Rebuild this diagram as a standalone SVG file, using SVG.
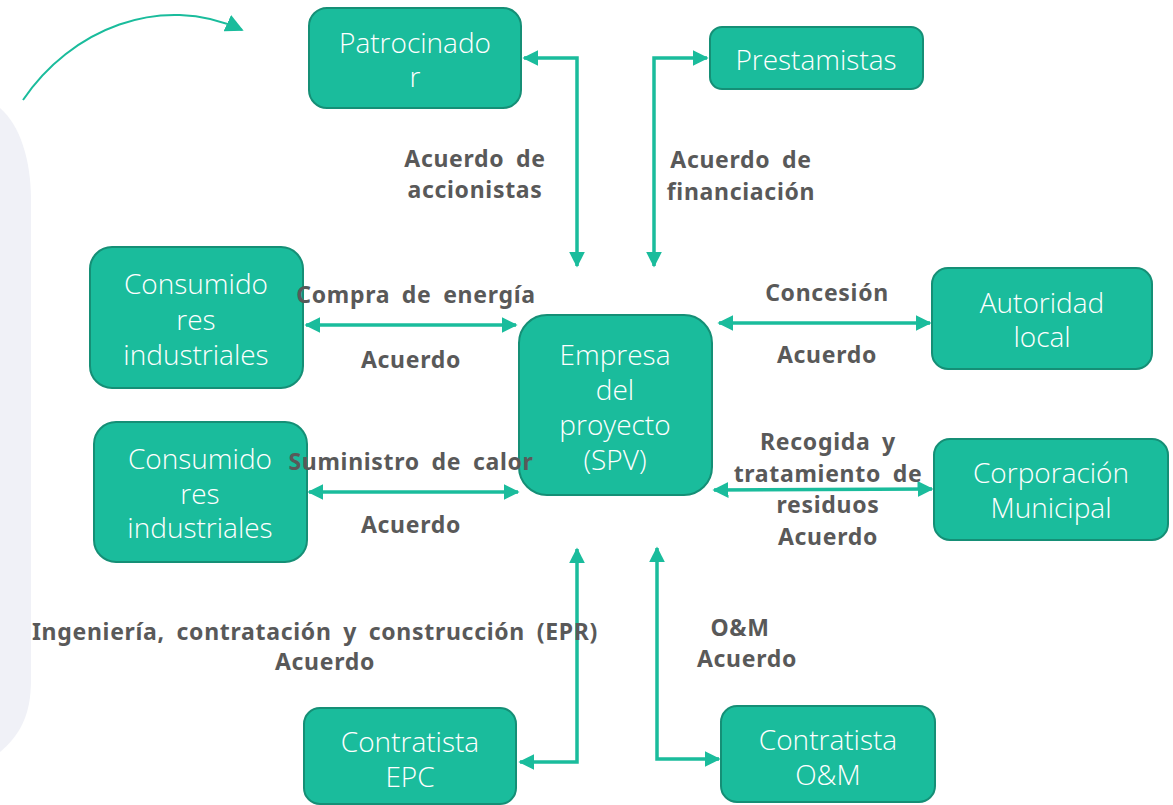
<svg xmlns="http://www.w3.org/2000/svg" width="1173" height="805" viewBox="0 0 1173 805">
<style>
.node rect{fill:#1abc9c;stroke:#158f76;stroke-width:2}
.node text{fill:#ffffff;font-family:"Open Sans","Noto Sans",sans-serif;font-weight:300;font-size:28px;text-anchor:middle}
.lbl{fill:#595959;font-family:"Noto Sans","Open Sans",sans-serif;font-weight:700;font-size:23px;letter-spacing:0.7px;word-spacing:5px;text-anchor:middle}
.conn{fill:none;stroke:#1abc9c;stroke-width:3.5}
</style>
<defs>
<marker id="ah" viewBox="0 0 10 10" refX="9" refY="5" markerWidth="4.6" markerHeight="4.6" markerUnits="strokeWidth" orient="auto-start-reverse">
<path d="M0,0 L10,5 L0,10 Z" fill="#1abc9c"/>
</marker>
<marker id="ah2" viewBox="0 0 10 10" refX="9" refY="5" markerWidth="9" markerHeight="9" markerUnits="strokeWidth" orient="auto">
<path d="M0,0 L10,5 L0,10 Z" fill="#1abc9c"/>
</marker>
</defs>
<rect width="1173" height="805" fill="#ffffff"/>
<path d="M0,108 C20,125 31,160 31,200 L31,680 C31,715 20,735 0,752 Z" fill="#f0f1f7"/>
<path d="M23,100 C70,30 160,-8 242,30" fill="none" stroke="#1abc9c" stroke-width="2" marker-end="url(#ah2)"/>
<g id="connectors">
<path class="conn" d="M524,58 L577,58 L577,266" marker-start="url(#ah)" marker-end="url(#ah)"/>
<path class="conn" d="M707,58 L654,58 L654,266" marker-start="url(#ah)" marker-end="url(#ah)"/>
<path class="conn" d="M306,325 L516,325" marker-start="url(#ah)" marker-end="url(#ah)"/>
<path class="conn" d="M309,492 L518,492" marker-start="url(#ah)" marker-end="url(#ah)"/>
<path class="conn" d="M719,323 L930,323" marker-start="url(#ah)" marker-end="url(#ah)"/>
<path class="conn" d="M714,490 L932,489" marker-start="url(#ah)" marker-end="url(#ah)"/>
<path class="conn" d="M577,549 L577,762 L520,762" marker-start="url(#ah)" marker-end="url(#ah)"/>
<path class="conn" d="M657,548 L657,759 L719,759" marker-start="url(#ah)" marker-end="url(#ah)"/>
</g>
<g id="n-patrocinador" class="node">
<rect x="309" y="8" width="212" height="100" rx="18"/>
<text x="415" y="53">Patrocinado</text>
<text x="415" y="87">r</text>
</g>
<g id="n-prestamistas" class="node">
<rect x="710" y="27" width="213" height="62" rx="12"/>
<text x="816" y="70">Prestamistas</text>
</g>
<g id="n-consumidores1" class="node">
<rect x="90" y="247" width="213" height="141" rx="22"/>
<text x="196" y="294">Consumido</text>
<text x="196" y="330">res</text>
<text x="196" y="365">industriales</text>
</g>
<g id="n-consumidores2" class="node">
<rect x="94" y="422" width="213" height="140" rx="22"/>
<text x="200" y="469">Consumido</text>
<text x="200" y="504">res</text>
<text x="200" y="538">industriales</text>
</g>
<g id="n-empresa" class="node">
<rect x="519" y="315" width="193" height="180" rx="28"/>
<text x="615" y="365">Empresa</text>
<text x="615" y="400">del</text>
<text x="615" y="435">proyecto</text>
<text x="615" y="470">(SPV)</text>
</g>
<g id="n-autoridad" class="node">
<rect x="932" y="268" width="220" height="101" rx="16"/>
<text x="1042" y="313">Autoridad</text>
<text x="1042" y="347">local</text>
</g>
<g id="n-corporacion" class="node">
<rect x="934" y="439" width="234" height="101" rx="16"/>
<text x="1051" y="483">Corporación</text>
<text x="1051" y="518">Municipal</text>
</g>
<g id="n-epc" class="node">
<rect x="304" y="708" width="212" height="96" rx="16"/>
<text x="410" y="752">Contratista</text>
<text x="410" y="787">EPC</text>
</g>
<g id="n-om" class="node">
<rect x="721" y="706" width="214" height="96" rx="16"/>
<text x="828" y="750">Contratista</text>
<text x="828" y="785">O&amp;M</text>
</g>
<g id="labels">
<text class="lbl" x="475" y="167">Acuerdo de</text>
<text class="lbl" x="475" y="198">accionistas</text>
<text class="lbl" x="741" y="168">Acuerdo de</text>
<text class="lbl" x="741" y="200">financiación</text>
<text class="lbl" x="416" y="303">Compra de energía</text>
<text class="lbl" x="411" y="368">Acuerdo</text>
<text class="lbl" x="411" y="470">Suministro de calor</text>
<text class="lbl" x="411" y="533">Acuerdo</text>
<text class="lbl" x="827" y="301">Concesión</text>
<text class="lbl" x="827" y="363">Acuerdo</text>
<text class="lbl" x="828" y="450">Recogida y</text>
<text class="lbl" x="828" y="482">tratamiento de</text>
<text class="lbl" x="828" y="513">residuos</text>
<text class="lbl" x="828" y="545">Acuerdo</text>
<text class="lbl" x="315" y="640">Ingeniería, contratación y construcción (EPR)</text>
<text class="lbl" x="325" y="670">Acuerdo</text>
<text class="lbl" x="740" y="636">O&amp;M</text>
<text class="lbl" x="747" y="667">Acuerdo</text>
</g>
</svg>
